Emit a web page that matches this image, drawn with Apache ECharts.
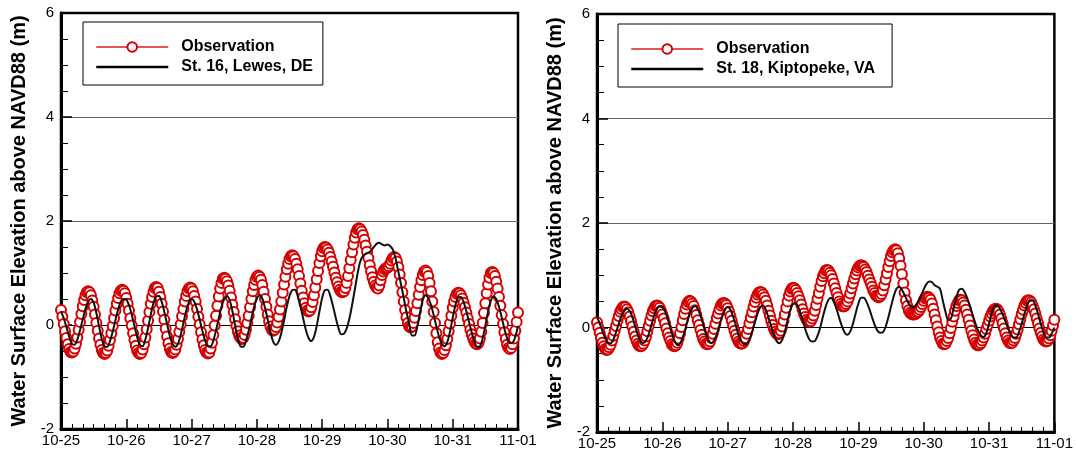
<!DOCTYPE html>
<html><head><meta charset="utf-8">
<script src="https://cdn.jsdelivr.net/npm/echarts@6/dist/echarts.min.js"></script>
<style>html,body{margin:0;padding:0;background:#fff;}#c{width:1076px;height:452px;}</style>
</head><body><div id="c"></div>
<script>
// Tick labels (one per day, 24 h apart)
const dayLabels = ['10-25','10-26','10-27','10-28','10-29','10-30','10-31','11-01'];
const yAxisTitle = 'Water Surface Elevation above NAVD88 (m)';
const obsName = 'Observation';
const leftModelName = 'St. 16, Lewes, DE';
const rightModelName = 'St. 18, Kiptopeke, VA';
const obsStepHours = 0.5;   // observation sampling
const modelStepHours = 1;   // model output sampling

// St. 16 Lewes — observation, every 30 min from 10-25 00:00 (m)
const lewesObs = [
 0.29,0.16,0.02,-0.12,-0.25,-0.37,-0.46,-0.52,-0.53,-0.51,-0.45,-0.36,
 -0.24,-0.09,0.06,0.21,0.36,0.48,0.57,0.63,0.65,0.63,0.57,0.47,
 0.35,0.20,0.04,-0.11,-0.26,-0.38,-0.48,-0.54,-0.56,-0.54,-0.49,-0.40,
 -0.29,-0.16,-0.02,0.13,0.28,0.41,0.52,0.61,0.66,0.68,0.66,0.61,
 0.52,0.41,0.28,0.13,-0.01,-0.16,-0.29,-0.40,-0.49,-0.54,-0.56,-0.54,
 -0.47,-0.37,-0.24,-0.08,0.08,0.25,0.41,0.54,0.64,0.71,0.73,0.71,
 0.64,0.54,0.41,0.26,0.10,-0.07,-0.22,-0.35,-0.45,-0.52,-0.54,-0.52,
 -0.47,-0.38,-0.27,-0.13,0.01,0.17,0.31,0.45,0.56,0.65,0.70,0.72,
 0.70,0.65,0.56,0.45,0.31,0.16,0.01,-0.14,-0.28,-0.39,-0.48,-0.53,
 -0.55,-0.53,-0.45,-0.34,-0.19,-0.01,0.18,0.37,0.55,0.70,0.81,0.89,
 0.91,0.89,0.84,0.76,0.66,0.53,0.39,0.25,0.11,-0.02,-0.12,-0.20,
 -0.25,-0.27,-0.25,-0.19,-0.09,0.04,0.18,0.34,0.50,0.65,0.77,0.87,
 0.93,0.95,0.93,0.87,0.77,0.64,0.50,0.35,0.20,0.07,-0.03,-0.09,
 -0.11,-0.09,-0.04,0.05,0.16,0.30,0.45,0.62,0.78,0.93,1.07,1.18,
 1.27,1.32,1.34,1.32,1.27,1.18,1.07,0.94,0.80,0.66,0.53,0.42,
 0.33,0.28,0.26,0.28,0.34,0.44,0.57,0.72,0.88,1.04,1.19,1.32,
 1.42,1.48,1.50,1.49,1.45,1.39,1.31,1.22,1.12,1.01,0.91,0.82,
 0.74,0.68,0.64,0.63,0.65,0.71,0.81,0.94,1.09,1.25,1.40,1.55,
 1.68,1.78,1.84,1.86,1.84,1.80,1.73,1.64,1.53,1.41,1.29,1.15,
 1.03,0.92,0.83,0.76,0.72,0.70,0.76,0.86,0.96,1.03,1.07,1.09,
 1.10,1.13,1.18,1.24,1.29,1.31,1.29,1.22,1.11,0.97,0.81,0.63,
 0.45,0.29,0.15,0.04,-0.03,-0.05,-0.03,0.04,0.14,0.27,0.42,0.58,
 0.73,0.86,0.96,1.03,1.05,1.02,0.94,0.81,0.65,0.45,0.25,0.04,
 -0.16,-0.33,-0.45,-0.53,-0.56,-0.54,-0.48,-0.39,-0.27,-0.12,0.03,0.18,
 0.33,0.45,0.54,0.60,0.62,0.61,0.57,0.51,0.43,0.34,0.24,0.13,
 0.02,-0.09,-0.18,-0.26,-0.32,-0.36,-0.37,-0.34,-0.26,-0.13,0.04,0.23,
 0.42,0.61,0.78,0.91,1.00,1.02,1.00,0.94,0.83,0.70,0.54,0.37,
 0.19,0.02,-0.14,-0.27,-0.38,-0.44,-0.46,-0.44,-0.37,-0.26,-0.11,0.06,
 0.24
];
// St. 16 Lewes — model, hourly (m)
const lewesModel = [
 0.26,0.13,-0.04,-0.22,-0.36,-0.38,-0.28,-0.10,0.11,0.31,0.45,0.50,
 0.43,0.23,-0.03,-0.27,-0.41,-0.42,-0.31,-0.13,0.09,0.30,0.45,0.50,
 0.49,0.38,0.20,-0.02,-0.23,-0.38,-0.41,-0.28,-0.06,0.20,0.42,0.55,
 0.56,0.45,0.25,0.02,-0.21,-0.36,-0.42,-0.36,-0.19,0.04,0.27,0.44,
 0.50,0.45,0.30,0.10,-0.12,-0.30,-0.41,-0.41,-0.30,-0.10,0.13,0.35,
 0.50,0.56,0.48,0.27,-0.01,-0.26,-0.41,-0.42,-0.30,-0.11,0.13,0.35,
 0.51,0.57,0.51,0.33,0.10,-0.14,-0.32,-0.38,-0.32,-0.15,0.09,0.35,
 0.56,0.67,0.68,0.56,0.37,0.13,-0.09,-0.25,-0.31,-0.23,-0.02,0.26,
 0.52,0.67,0.68,0.56,0.36,0.14,-0.06,-0.18,-0.17,-0.07,0.12,0.38,
 0.68,0.98,1.22,1.33,1.37,1.39,1.43,1.50,1.56,1.58,1.55,1.53,
 1.55,1.52,1.45,1.28,1.03,0.78,0.52,0.25,0.03,-0.20,-0.20,-0.02,
 0.24,0.48,0.57,0.52,0.39,0.19,-0.03,-0.23,-0.36,-0.41,-0.33,-0.13,
 0.14,0.38,0.53,0.54,0.44,0.27,0.06,-0.15,-0.32,-0.42,-0.41,-0.26,
 -0.01,0.26,0.47,0.55,0.50,0.35,0.15,-0.07,-0.25,-0.35,-0.34,-0.23,
 -0.02
];
// St. 18 Kiptopeke — observation, every 30 min (m)
const kiptoObs = [
 0.10,0.00,-0.10,-0.20,-0.29,-0.36,-0.41,-0.43,-0.42,-0.38,-0.33,-0.25,
 -0.16,-0.06,0.03,0.13,0.22,0.30,0.35,0.39,0.40,0.39,0.35,0.29,
 0.21,0.12,0.02,-0.08,-0.17,-0.25,-0.31,-0.35,-0.36,-0.35,-0.31,-0.25,
 -0.17,-0.07,0.03,0.13,0.23,0.31,0.37,0.41,0.42,0.41,0.38,0.32,
 0.25,0.17,0.08,-0.02,-0.11,-0.19,-0.26,-0.32,-0.35,-0.36,-0.34,-0.29,
 -0.21,-0.11,0.01,0.14,0.26,0.36,0.44,0.49,0.51,0.50,0.46,0.41,
 0.33,0.24,0.14,0.05,-0.05,-0.14,-0.22,-0.27,-0.31,-0.32,-0.31,-0.27,
 -0.20,-0.12,-0.03,0.07,0.18,0.27,0.35,0.42,0.46,0.47,0.46,0.43,
 0.37,0.30,0.22,0.13,0.03,-0.06,-0.14,-0.21,-0.27,-0.30,-0.31,-0.30,
 -0.26,-0.20,-0.12,-0.03,0.08,0.19,0.29,0.40,0.49,0.57,0.63,0.67,
 0.68,0.67,0.63,0.58,0.51,0.42,0.32,0.23,0.13,0.05,-0.03,-0.08,
 -0.12,-0.13,-0.11,-0.06,0.02,0.13,0.25,0.38,0.50,0.61,0.69,0.74,
 0.76,0.75,0.72,0.66,0.60,0.52,0.44,0.35,0.27,0.20,0.15,0.12,
 0.11,0.12,0.17,0.23,0.32,0.43,0.55,0.66,0.78,0.89,0.98,1.04,
 1.09,1.10,1.09,1.05,1.00,0.93,0.84,0.75,0.66,0.58,0.50,0.45,
 0.41,0.40,0.41,0.45,0.50,0.57,0.65,0.75,0.84,0.94,1.02,1.09,
 1.15,1.18,1.19,1.18,1.16,1.11,1.06,0.99,0.92,0.85,0.78,0.71,
 0.66,0.61,0.59,0.58,0.60,0.64,0.71,0.81,0.92,1.04,1.16,1.27,
 1.37,1.44,1.48,1.50,1.48,1.42,1.32,1.18,1.02,0.84,0.67,0.52,
 0.41,0.33,0.28,0.26,0.25,0.25,0.26,0.28,0.30,0.34,0.39,0.45,
 0.51,0.56,0.58,0.59,0.57,0.53,0.46,0.36,0.25,0.14,0.02,-0.09,
 -0.19,-0.26,-0.31,-0.32,-0.31,-0.26,-0.20,-0.11,-0.01,0.11,0.21,0.32,
 0.41,0.47,0.52,0.53,0.52,0.48,0.42,0.34,0.25,0.15,0.04,-0.06,
 -0.15,-0.23,-0.29,-0.33,-0.34,-0.33,-0.30,-0.25,-0.19,-0.12,-0.03,0.05,
 0.13,0.21,0.27,0.32,0.35,0.36,0.35,0.31,0.25,0.17,0.08,-0.02,
 -0.11,-0.19,-0.25,-0.29,-0.30,-0.29,-0.25,-0.20,-0.12,-0.04,0.06,0.16,
 0.26,0.34,0.42,0.47,0.51,0.52,0.51,0.48,0.42,0.35,0.27,0.17,
 0.08,-0.02,-0.10,-0.17,-0.23,-0.26,-0.27,-0.26,-0.21,-0.15,-0.06,0.04,
 0.15
];
// St. 18 Kiptopeke — model, hourly (m)
const kiptoModel = [
 0.20,0.08,-0.07,-0.20,-0.29,-0.30,-0.23,-0.09,0.07,0.22,0.32,0.36,
 0.32,0.20,0.03,-0.14,-0.26,-0.30,-0.25,-0.13,0.05,0.23,0.35,0.40,
 0.39,0.31,0.16,-0.02,-0.19,-0.31,-0.34,-0.25,-0.11,0.08,0.25,0.37,
 0.41,0.36,0.23,0.06,-0.12,-0.25,-0.30,-0.25,-0.13,0.05,0.22,0.34,
 0.39,0.34,0.21,0.04,-0.14,-0.27,-0.32,-0.31,-0.23,-0.08,0.10,0.27,
 0.39,0.42,0.34,0.19,0.02,-0.14,-0.26,-0.30,-0.24,-0.08,0.14,0.34,
 0.45,0.46,0.38,0.23,0.06,-0.11,-0.23,-0.27,-0.26,-0.16,0.00,0.21,
 0.40,0.53,0.57,0.49,0.35,0.18,0.02,-0.10,-0.14,-0.08,0.07,0.27,
 0.46,0.57,0.57,0.49,0.36,0.20,0.05,-0.06,-0.10,-0.09,0.01,0.19,
 0.40,0.60,0.74,0.78,0.72,0.62,0.51,0.42,0.39,0.42,0.50,0.61,
 0.73,0.83,0.88,0.87,0.81,0.78,0.74,0.52,0.30,0.14,0.17,0.36,
 0.58,0.72,0.74,0.68,0.56,0.41,0.24,0.08,-0.06,-0.15,-0.18,-0.11,
 0.07,0.28,0.41,0.42,0.36,0.25,0.12,-0.02,-0.13,-0.19,-0.19,-0.09,
 0.07,0.26,0.42,0.52,0.52,0.42,0.26,0.07,-0.09,-0.19,-0.19,-0.12,
 0.00
];

const FONT = '"Liberation Sans", Arial, Helvetica, sans-serif';
const OBS_COLOR = '#d40000';

function pairs(arr, step) { return arr.map((v, i) => [i * step, v]); }

function makeX(gi) {
  return {
    gridIndex: gi, type: 'value', min: 0, max: 24 * (dayLabels.length - 1), interval: 24,
    axisLine: { show: true, onZero: false, lineStyle: { color: '#000', width: 3 } },
    axisTick: { show: true, inside: true, length: 10, lineStyle: { color: '#000', width: 1.5 } },
    minorTick: { show: true, splitNumber: 6, length: 5, lineStyle: { color: '#000', width: 1 } },
    axisLabel: { margin: 4, color: '#000', fontSize: 15, fontFamily: FONT,
      formatter: v => dayLabels[Math.round(v / 24)] },
    splitLine: { show: false }
  };
}
function makeY(gi) {
  return {
    gridIndex: gi, type: 'value', min: -2, max: 6, interval: 2,
    name: yAxisTitle, nameLocation: 'middle', nameGap: 32,
    nameTextStyle: { fontSize: 20, fontWeight: 'bold', fontFamily: FONT, color: '#000' },
    axisLine: { show: true, onZero: false, lineStyle: { color: '#000', width: 3 } },
    axisTick: { show: true, inside: true, length: 11, lineStyle: { color: '#000', width: 1.5 } },
    minorTick: { show: true, splitNumber: 4, length: 7, lineStyle: { color: '#000', width: 1 } },
    axisLabel: { margin: 7, color: '#000', fontSize: 15, fontFamily: FONT },
    splitLine: { show: true, lineStyle: { color: ['#000', '#000', '#666', '#666', '#000'], width: 1 } }
  };
}
function makeLegend(gi, modelName, left, top, padRight) {
  return {
    orient: 'vertical', left: left, top: top,
    padding: [17, padRight, 10, 12],
    itemWidth: 72, itemHeight: 12, itemGap: 4,
    borderColor: '#000', borderWidth: 1, backgroundColor: '#fff',
    selectedMode: false,
    textStyle: { fontSize: 16, fontWeight: 'bold', fontFamily: FONT, color: '#000', padding: [0, 0, 0, 8] },
    data: [
      { name: obsName + (gi ? ' ' : ''), lineStyle: { width: 2, color: '#e05555' } },
      { name: modelName, lineStyle: { width: 2.5, color: '#000' }, itemStyle: { opacity: 0 } }
    ]
  };
}
function obsSeries(gi, arr) {
  return {
    name: obsName + (gi ? ' ' : ''), type: 'line', xAxisIndex: gi, yAxisIndex: gi,
    data: pairs(arr, obsStepHours),
    symbol: 'emptyCircle', symbolSize: 10, showSymbol: true,
    lineStyle: { color: OBS_COLOR, width: 1 },
    itemStyle: { color: OBS_COLOR, borderColor: OBS_COLOR, borderWidth: 1.5 },
    emphasis: { disabled: true }, animation: false, z: 2
  };
}
function modelSeries(gi, arr, name) {
  return {
    name: name, type: 'line', xAxisIndex: gi, yAxisIndex: gi,
    data: pairs(arr, modelStepHours),
    symbol: 'none', showSymbol: false, smooth: 0.3,
    lineStyle: { color: '#111', width: 2 },
    itemStyle: { color: '#111' },
    emphasis: { disabled: true }, animation: false, z: 3
  };
}

const chart = echarts.init(document.getElementById('c'), null, { renderer: 'canvas' });
chart.setOption({
  animation: false,
  backgroundColor: '#fff',
  textStyle: { fontFamily: FONT },
  grid: [
    { left: 61, top: 13, width: 457, height: 416, show: true, borderColor: '#000', borderWidth: 2.5, containLabel: false },
    { left: 597, top: 14, width: 458, height: 418, show: true, borderColor: '#000', borderWidth: 2.5, containLabel: false }
  ],
  xAxis: [makeX(0), makeX(1)],
  yAxis: [makeY(0), makeY(1)],
  legend: [makeLegend(0, leftModelName, 83, 22, 10), makeLegend(1, rightModelName, 618, 24, 17)],
  series: [
    obsSeries(0, lewesObs), modelSeries(0, lewesModel, leftModelName),
    obsSeries(1, kiptoObs), modelSeries(1, kiptoModel, rightModelName)
  ]
});
</script>
</body></html>
